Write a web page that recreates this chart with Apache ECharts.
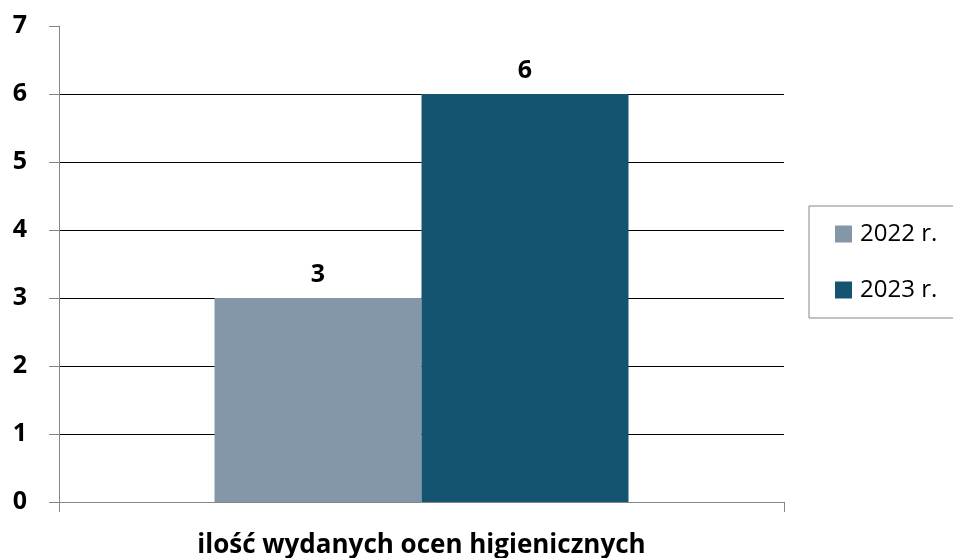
<!DOCTYPE html>
<html>
<head>
<meta charset="utf-8">
<script src="https://cdn.jsdelivr.net/npm/echarts@6/dist/echarts.min.js"></script>
<style>
  html, body { margin: 0; padding: 0; background: #fff; }
  #chart { width: 953px; height: 558px; }
</style>
</head>
<body>
<div id="chart"></div>
<script>
var categories = ['ilość wydanych ocen higienicznych'];
var years = ['2022 r.', '2023 r.'];
var values2022 = [3];
var values2023 = [6];
var yTicks = [0, 1, 2, 3, 4, 5, 6, 7];

var myChart = echarts.init(document.getElementById('chart'));
var font = '"Open Sans", sans-serif';

var labelStyle = {
    show: true,
    position: 'top',
    distance: 11,
    fontFamily: font,
    fontWeight: 'bold',
    fontSize: 25,
    color: '#000'
};

var option = {
    animation: false,
    grid: { left: 59, right: 169, top: 26, bottom: 56, outerBoundsMode: 'none', containLabel: false },
    legend: {
        orient: 'vertical',
        left: 809,
        top: 206,
        padding: [16, 40, 16, 26],
        itemGap: 32,
        itemWidth: 17,
        itemHeight: 17,
        icon: 'rect',
        borderColor: '#868686',
        borderWidth: 1,
        borderRadius: 0,
        textStyle: { fontFamily: font, fontSize: 24, color: '#000', lineHeight: 24, padding: [0, 0, 0, 3] },
        data: years
    },
    xAxis: {
        type: 'category',
        data: categories,
        name: categories[0],
        nameLocation: 'middle',
        nameGap: 31,
        nameTextStyle: { fontFamily: font, fontWeight: 'bold', fontSize: 26, color: '#000' },
        axisLine: { lineStyle: { color: '#868686', width: 1 } },
        axisTick: { show: true, length: 10, lineStyle: { color: '#868686' } },
        axisLabel: { show: false }
    },
    yAxis: {
        type: 'value',
        min: yTicks[0],
        max: yTicks[yTicks.length - 1],
        interval: 1,
        axisLine: { show: true, lineStyle: { color: '#868686', width: 1 } },
        axisTick: { show: true, length: 10, lineStyle: { color: '#868686' } },
        axisLabel: { margin: 32, fontFamily: font, fontWeight: 'bold', fontSize: 25, color: '#000' },
        splitLine: { show: true, showMinLine: false, showMaxLine: false, lineStyle: { color: '#000', width: 1 } }
    },
    series: [
        {
            name: years[0],
            type: 'bar',
            data: values2022,
            barWidth: 207,
            barGap: '0%',
            itemStyle: { color: '#8497A9' },
            label: labelStyle
        },
        {
            name: years[1],
            type: 'bar',
            data: values2023,
            barWidth: 207,
            barGap: '0%',
            itemStyle: { color: '#145470' },
            label: labelStyle
        }
    ]
};

myChart.setOption(option);
</script>
</body>
</html>
